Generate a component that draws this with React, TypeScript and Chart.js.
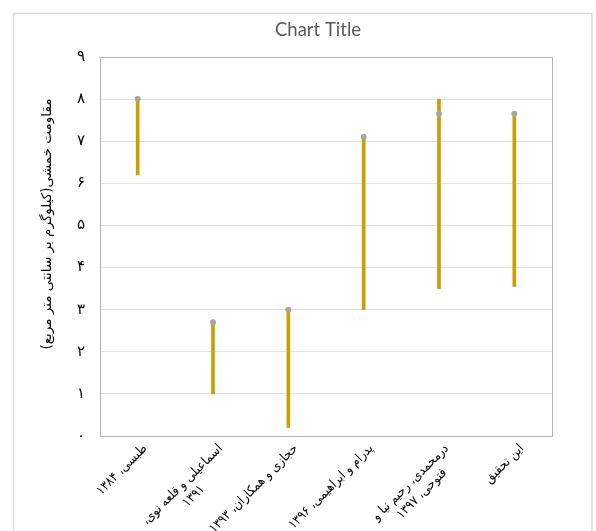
import React, { useEffect, useRef } from 'react';
import { Chart, registerables } from 'chart.js';

Chart.register(...registerables);

// Category labels (each entry is the list of lines of one label)
const categories: string[][] = [
  ['طبسی، ۱۳۸۴'],
  ['اسماعیلی و قلعه نوی،', '۱۳۹۱'],
  ['حجازی و همکاران، ۱۳۹۳'],
  ['پدرام و ابراهیمی، ۱۳۹۶'],
  ['درمحمدی، رحیم نیا و', 'فتوحی، ۱۳۹۷'],
  ['این تحقیق'],
];

// High / low / close values (kg/cm²)
const highValues: number[] = [8.0, 2.7, 3.0, 7.1, 8.0, 7.6];
const lowValues: number[] = [6.2, 1.0, 0.2, 3.0, 3.5, 3.55];
const closeValues: number[] = [8.0, 2.7, 3.0, 7.1, 7.65, 7.65];

// Y axis tick labels in Persian digits, 0..9
const yTickLabels: string[] = ['۰', '۱', '۲', '۳', '۴', '۵', '۶', '۷', '۸', '۹'];

const chartTitle = 'Chart Title';
const yAxisTitle = 'مقاومت خمشی(کیلوگرم بر سانتی متر مربع)';

const PERSIAN_FONT = '"DejaVu Sans", "Noto Sans", sans-serif';
const PERSIAN_FONT_NARROW = '"DejaVu Sans Condensed", "DejaVu Sans", sans-serif';

const framePlugin = {
  id: 'frame',
  beforeDraw(chart: any) {
    const { ctx, width, height } = chart;
    ctx.save();
    ctx.fillStyle = '#ffffff';
    ctx.fillRect(0, 0, width, height);
    ctx.strokeStyle = '#D9D9D9';
    ctx.lineWidth = 1.5;
    ctx.strokeRect(13.5, 13.5, 578.5, 540);
    ctx.restore();
  },
  beforeDatasetsDraw(chart: any) {
    const { ctx, chartArea } = chart;
    ctx.save();
    ctx.strokeStyle = '#B3B3B3';
    ctx.lineWidth = 1;
    ctx.strokeRect(
      Math.round(chartArea.left) + 0.5,
      Math.round(chartArea.top) + 0.5,
      Math.round(chartArea.right - chartArea.left),
      Math.round(chartArea.bottom - chartArea.top)
    );
    ctx.restore();
  },
  afterDraw(chart: any) {
    const { ctx, chartArea } = chart;
    const xs = chart.scales.x;

    // Title
    ctx.save();
    ctx.font = '18.5px Lato, "Open Sans", sans-serif';
    ctx.fillStyle = '#595959';
    ctx.textAlign = 'center';
    ctx.textBaseline = 'middle';
    ctx.fillText(chartTitle, 318, 30);
    ctx.restore();

    // Y axis title
    ctx.save();
    ctx.font = `13.5px ${PERSIAN_FONT}`;
    ctx.fillStyle = '#000000';
    ctx.direction = 'rtl';
    ctx.textAlign = 'center';
    ctx.textBaseline = 'middle';
    ctx.translate(47, 224);
    ctx.rotate(-Math.PI / 2);
    ctx.fillText(yAxisTitle, 0, 0);
    ctx.restore();

    // Rotated category labels, lines centred within each block
    ctx.save();
    ctx.font = `13px ${PERSIAN_FONT_NARROW}`;
    ctx.fillStyle = '#000000';
    ctx.direction = 'rtl';
    const lineHeight = 16;
    categories.forEach((lines, i) => {
      const x = xs.getPixelForValue(i);
      const y = chartArea.bottom + 6;
      const w = Math.max(...lines.map((l) => ctx.measureText(l).width));
      ctx.save();
      ctx.translate(x + 3, y);
      ctx.rotate(-Math.PI / 4);
      ctx.textAlign = 'center';
      ctx.textBaseline = 'top';
      lines.forEach((l, j) => ctx.fillText(l, -w / 2, j * lineHeight));
      ctx.restore();
    });
    ctx.restore();
  },
};

export default function App() {
  const canvasRef = useRef<HTMLCanvasElement | null>(null);

  useEffect(() => {
    if (!canvasRef.current) return;
    const chart = new Chart(canvasRef.current, {
      type: 'bar',
      data: {
        labels: categories.map((c) => c.join(' ')),
        datasets: [
          {
            type: 'line',
            label: 'Close',
            data: closeValues,
            showLine: false,
            pointRadius: 3,
            pointBackgroundColor: '#A5A5A5',
            pointBorderColor: '#A5A5A5',
            pointBorderWidth: 0,
            order: 1,
          } as any,
          {
            type: 'bar',
            label: 'High-Low',
            data: lowValues.map((l, i) => [l, highValues[i]]),
            backgroundColor: '#C9A000',
            borderWidth: 0,
            barThickness: 3,
            order: 2,
          } as any,
        ],
      },
      options: {
        responsive: false,
        animation: false,
        layout: { padding: { top: 57, right: 44, left: 0, bottom: 0 } },
        plugins: {
          legend: { display: false },
          tooltip: { enabled: false },
          title: { display: false },
        },
        scales: {
          x: {
            grid: { display: false },
            border: { display: false },
            ticks: { display: false },
            afterFit: (scale: any) => {
              scale.height = 95;
            },
          },
          y: {
            min: 0,
            max: 9,
            grid: { color: '#E3E3E3', drawTicks: false, lineWidth: 1 },
            border: { display: false },
            ticks: {
              stepSize: 1,
              padding: 15,
              color: '#000000',
              font: { family: PERSIAN_FONT, size: 15 },
              callback: (v: any) => yTickLabels[Number(v)] ?? '',
            },
            afterFit: (scale: any) => {
              scale.width = 100;
            },
          },
        },
      },
      plugins: [framePlugin],
    });
    return () => chart.destroy();
  }, []);

  return (
    <div style={{ position: 'fixed', left: 0, top: 0, width: 596, height: 531, background: '#fff' }}>
      <canvas ref={canvasRef} width={596} height={531} style={{ display: 'block' }} />
    </div>
  );
}
